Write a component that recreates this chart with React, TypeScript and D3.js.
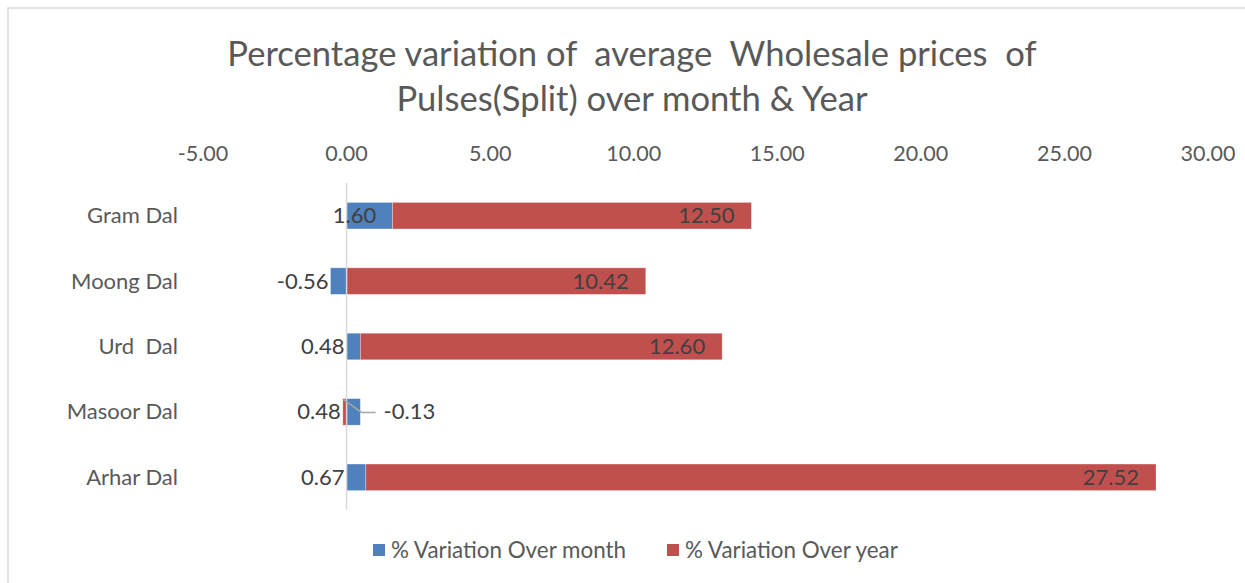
import React from "react";
import * as d3 from "d3";

const categories = ["Gram Dal", "Moong Dal", "Urd  Dal", "Masoor Dal", "Arhar Dal"];
const monthValues = [1.6, -0.56, 0.48, 0.48, 0.67];
const yearValues = [12.5, 10.42, 12.6, -0.13, 27.52];
const xTicks = [-5, 0, 5, 10, 15, 20, 25, 30];
const seriesNames = ["% Variation Over month", "% Variation Over year"];
const titleLines = ["Percentage variation of  average  Wholesale prices  of", "Pulses(Split) over month & Year"];

const W = 1245;
const H = 583;
const BLUE = "#4F81BD";
const RED = "#C0504D";
const FONT = "Lato, 'Open Sans', sans-serif";
const FS = 22;

export default function App() {
  const x = d3.scaleLinear().domain([-5, 30]).range([203, 1208]);
  const y = d3
    .scaleBand<string>()
    .domain(categories)
    .range([183, 510])
    .paddingInner(0.594)
    .paddingOuter(0.297);

  const rows = categories.map((c, i) => ({ cat: c, month: monthValues[i], year: yearValues[i] }));
  const stack = d3
    .stack<any>()
    .keys(["month", "year"])
    .offset(d3.stackOffsetDiverging);
  const series = stack(rows);
  const colors = [BLUE, RED];
  const bh = y.bandwidth();
  const f2 = d3.format(".2f");
  const fmt = (v: number) => f2(v).replace("\u2212", "-");

  return (
    <svg width={W} height={H} style={{ display: "block", position: "absolute", left: 0, top: 0 }}>
      <rect x={0} y={0} width={W} height={H} fill="#fff" />
      <rect x={8} y={8} width={W + 20} height={H + 20} fill="none" stroke="#d9d9d9" strokeWidth={1.5} />
      {titleLines.map((t, i) => (
        <text
          key={i}
          x={632}
          y={66 + i * 45}
          textAnchor="middle"
          fontFamily={FONT}
          fontSize={34.6}
          fill="#595959"
          style={{ whiteSpace: "pre" }}
        >
          {t}
        </text>
      ))}
      {xTicks.map((t) => (
        <text key={t} x={x(t)} y={161} textAnchor="middle" fontFamily={FONT} fontSize={21.5} fill="#595959">
          {fmt(t)}
        </text>
      ))}
      {series.map((s, si) =>
        s.map((d, i) => {
          const x0 = x(Math.min(d[0], d[1]));
          const x1 = x(Math.max(d[0], d[1]));
          return (
            <rect
              key={si + "-" + i}
              x={x0}
              y={y(categories[i])!}
              width={x1 - x0}
              height={bh}
              fill={colors[si]}
              stroke="#fff"
              strokeOpacity={0.4}
              strokeWidth={0.75}
            />
          );
        })
      )}
      <line x1={x(0)} x2={x(0)} y1={183} y2={510} stroke="#d9d9d9" strokeWidth={1.5} />
      {categories.map((c) => (
        <text
          key={c}
          x={178}
          y={y(c)! + bh / 2 + 7.5}
          textAnchor="end"
          fontFamily={FONT}
          fontSize={FS}
          fill="#595959"
          style={{ whiteSpace: "pre" }}
        >
          {c}
        </text>
      ))}
      {/* month labels */}
      {series[0].map((d, i) => {
        const v = monthValues[i];
        const cy = y(categories[i])! + bh / 2 + 7.5;
        if (i === 0) {
          return (
            <text key={"m" + i} x={x(0) + 8} y={cy} textAnchor="middle" fontFamily={FONT} fontSize={FS} fill="#404040">
              {fmt(v)}
            </text>
          );
        }
        const left = Math.min(x(d[0]), x(d[1]), x(Math.min(0, yearValues[i])));
        return (
          <text key={"m" + i} x={left - 2} y={cy} textAnchor="end" fontFamily={FONT} fontSize={FS} fill="#404040">
            {fmt(v)}
          </text>
        );
      })}
      {/* year labels */}
      {series[1].map((d, i) => {
        const v = yearValues[i];
        const cy = y(categories[i])! + bh / 2 + 7.5;
        if (v < 0) {
          const bx = x(0) - 3;
          const by = y(categories[i])!;
          const lx = x(0) + 29;
          return (
            <g key={"y" + i}>
              <polyline
                points={`${bx},${by + 1} ${x(0) + 15},${cy - 7} ${lx},${cy - 7}`}
                fill="none"
                stroke="#a6a6a6"
                strokeWidth={1.5}
              />
              <text x={lx + 8} y={cy} textAnchor="start" fontFamily={FONT} fontSize={FS} fill="#404040">
                {fmt(v)}
              </text>
            </g>
          );
        }
        return (
          <text key={"y" + i} x={x(d[1]) - 17} y={cy} textAnchor="end" fontFamily={FONT} fontSize={FS} fill="#404040">
            {fmt(v)}
          </text>
        );
      })}
      {/* legend */}
      {seriesNames.map((n, i) => {
        const lx = i === 0 ? 373 : 667;
        return (
          <g key={n}>
            <rect x={lx} y={544} width={12} height={12} fill={colors[i]} />
            <text x={lx + 18} y={558} fontFamily={FONT} fontSize={22.4} fill="#595959">
              {n}
            </text>
          </g>
        );
      })}
    </svg>
  );
}
